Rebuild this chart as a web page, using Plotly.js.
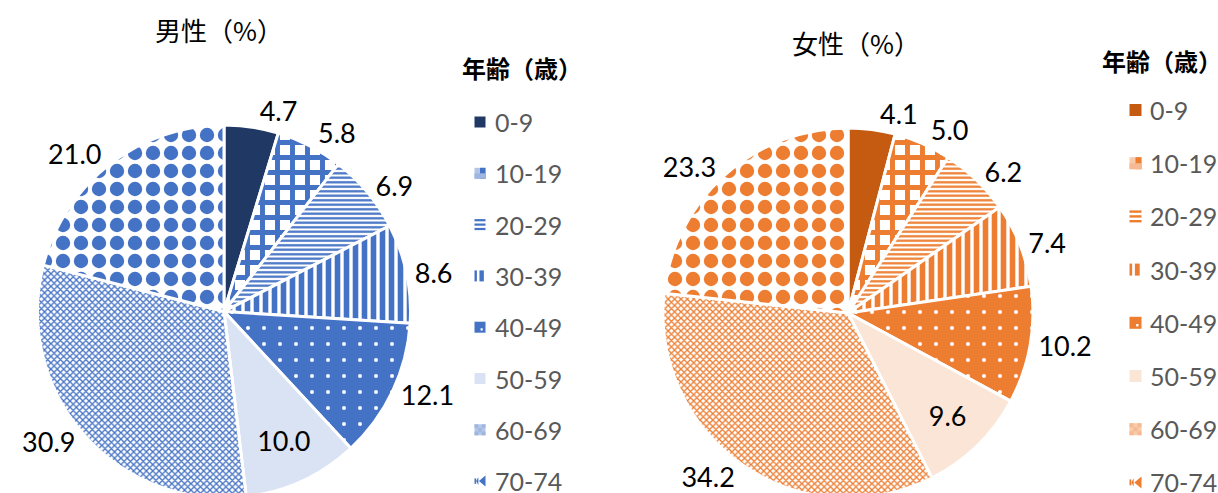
<!DOCTYPE html>
<html><head><meta charset="utf-8">
<script src="https://cdn.plot.ly/plotly-3.0.1.min.js"></script>
<style>html,body{margin:0;padding:0;background:#fff}#wrap{width:1218px;height:493px;overflow:hidden}</style>
</head><body><div id="wrap"><div id="chart"></div></div>
<script>
// ---- data ----
const ageGroups = ['0-9', '10-19', '20-29', '30-39', '40-49', '50-59', '60-69', '70-74'];
const maleValues = [4.7, 5.8, 6.9, 8.6, 12.1, 10.0, 30.9, 21.0];
const femaleValues = [4.1, 5.0, 6.2, 7.4, 10.2, 9.6, 34.2, 23.3];
const maleTitle = '男性（%）';
const femaleTitle = '女性（%）';
const legendTitle = '年齢（歳）';

// ---- styling ----
const W = 1218, H = 520;
const px = x => x / W;
const py = y => 1 - y / H;

const blue = {dark: '#203864', mid: '#4472C4', light: '#DAE3F3', mix: '#9FB6E0', mix2: '#B4C6E7'};
const orange = {dark: '#C55A11', mid: '#ED7D31', light: '#FBE5D6', mix: '#F5BA92', mix2: '#F8CBAD'};
const NUM_FONT = 'Lato, "Liberation Sans", sans-serif';
const CJK_FONT = '"Noto Sans CJK JP", "Noto Sans", sans-serif';
const TEXT_FONT = {family: NUM_FONT, size: 27, color: '#000000'};

function patternFor(c) {
  return {
    shape: ['/', '+', '-', '|', '.', '/', 'x', '.'],
    fgcolor: [c.dark, c.mid, c.mid, c.mid, '#ffffff', c.light, c.mid, c.mid],
    bgcolor: [c.dark, '#ffffff', '#ffffff', '#ffffff', c.mid, c.light, '#ffffff', '#ffffff'],
    size: [8, 15, 4.5, 9, 16, 8, 4.5, 18],
    solidity: [0.5, 0.55, 0.5, 0.62, 0.05, 0.5, 0.5, 0.5],
    fillmode: 'replace'
  };
}

function domainFor(cx, cy, r) {
  return {x: [px(cx - r), px(cx + r)], y: [py(cy + r), py(cy - r)]};
}

// main pie: all slices, labels except the first one (which is drawn by the overlay
// so that Plotly does not push it aside with a leader line)
function pieTrace(values, c, cx, cy, r) {
  return {
    type: 'pie',
    values: values,
    labels: ageGroups,
    sort: false,
    direction: 'clockwise',
    rotation: 0,
    domain: domainFor(cx, cy, r),
    marker: {
      colors: [c.dark, c.mid, c.mid, c.mid, c.mid, c.light, c.mid, c.mid],
      line: {color: '#ffffff', width: 3},
      pattern: patternFor(c)
    },
    texttemplate: '%{value:.1f}',
    textposition: ageGroups.map((g, i) => i === 0 ? 'none' : (i === 5 ? 'inside' : 'outside')),
    insidetextorientation: 'horizontal',
    textfont: TEXT_FONT,
    insidetextfont: TEXT_FONT,
    outsidetextfont: TEXT_FONT,
    hoverinfo: 'label+value',
    showlegend: false
  };
}

// transparent overlay pie carrying only the first slice's label
function labelOverlay(values, cx, cy, r) {
  return {
    type: 'pie',
    values: values,
    labels: ageGroups,
    sort: false,
    direction: 'clockwise',
    rotation: 0,
    domain: domainFor(cx, cy, r),
    marker: {colors: ageGroups.map(() => 'rgba(0,0,0,0)'), line: {width: 0}},
    texttemplate: '%{value:.1f}',
    textposition: ageGroups.map((g, i) => i === 0 ? 'outside' : 'none'),
    textfont: TEXT_FONT,
    outsidetextfont: TEXT_FONT,
    hoverinfo: 'skip',
    showlegend: false
  };
}

const data = [
  pieTrace(maleValues, blue, 224, 311.5, 186.5),
  pieTrace(femaleValues, orange, 848, 313, 185),
  labelOverlay(maleValues, 224, 311.5, 186.5),
  labelOverlay(femaleValues, 848, 313, 185)
];

const annotations = [];
const shapes = [];

function addTitle(text, x, y) {
  annotations.push({xref: 'paper', yref: 'paper', x: px(x), y: py(y), text: text, showarrow: false,
    xanchor: 'center', yanchor: 'middle', font: {family: CJK_FONT, size: 26, color: '#000000'}});
}

function rect(x0, y0, x1, y1, color) {
  shapes.push({type: 'rect', xref: 'paper', yref: 'paper', x0: px(x0), x1: px(x1), y0: py(y1), y1: py(y0),
    fillcolor: color, line: {width: 0}, layer: 'above'});
}
function poly(points, color) {
  const d = points.map((p, k) => (k ? 'L' : 'M') + px(p[0]).toFixed(5) + ',' + py(p[1]).toFixed(5)).join(' ') + ' Z';
  shapes.push({type: 'path', xref: 'paper', yref: 'paper', path: d, fillcolor: color, line: {width: 0}, layer: 'above'});
}

function swatch(i, x0, cy, s, c) {
  const y0 = cy - s / 2, y1 = cy + s / 2, x1 = x0 + s;
  if (i === 0) rect(x0, y0, x1, y1, c.dark);
  else if (i === 1) { rect(x0, y0, x1, y1, c.mix2); rect(x0 + s * 0.5, y0, x1, y1, c.mid); rect(x0, y0 + s * 0.5, x1, y1, c.mix); }
  else if (i === 2) { for (let k = 0; k < 3; k++) rect(x0, y0 + k * s * 0.4, x1, y0 + k * s * 0.4 + s * 0.2, c.mid); }
  else if (i === 3) { rect(x0, y0, x0 + s * 0.22, y1, c.mid); rect(x0 + s * 0.45, y0, x0 + s * 0.85, y1, c.mid); }
  else if (i === 4) { rect(x0, y0, x1, y1, c.mid); rect(x0 + s * 0.55, y0 + s * 0.6, x0 + s * 0.75, y0 + s * 0.8, '#ffffff'); }
  else if (i === 5) rect(x0, y0, x1, y1, c.light);
  else if (i === 6) {
    rect(x0, y0, x1, y1, c.mix2);
    for (let a = 0; a < 3; a++) for (let b = 0; b < 3; b++) if ((a + b) % 2 === 0)
      rect(x0 + a * s / 3, y0 + b * s / 3, x0 + (a + 1) * s / 3, y0 + (b + 1) * s / 3, c.mix);
  }
  else if (i === 7) {
    rect(x0, y0 + s * 0.25, x0 + s * 0.15, y1 - s * 0.25, c.mid);
    poly([[x0 + s * 0.15, cy], [x0 + s * 0.35, y0 + s * 0.15], [x0 + s * 0.35, y1 - s * 0.15]], c.mid);
    poly([[x0 + s * 0.4, cy], [x1, y0], [x1, y1]], c.mid);
  }
}

function addLegend(c, titleX, titleY, swX, txtX, y0, step, s, fontSize) {
  annotations.push({xref: 'paper', yref: 'paper', x: px(titleX), y: py(titleY), text: '<b>' + legendTitle + '</b>',
    showarrow: false, xanchor: 'left', yanchor: 'middle', font: {family: CJK_FONT, size: 24, color: '#000000'}});
  ageGroups.forEach((g, i) => {
    const cy = y0 + i * step;
    swatch(i, swX, cy, s, c);
    annotations.push({xref: 'paper', yref: 'paper', x: px(txtX), y: py(cy), text: g, showarrow: false,
      xanchor: 'left', yanchor: 'middle', font: {family: NUM_FONT, size: fontSize, color: '#595959'}});
  });
}

addTitle(maleTitle, 219, 29);
addTitle(femaleTitle, 856, 42);
addLegend(blue, 460, 68, 474.5, 493, 122, 51.3, 11, 25);
addLegend(orange, 1100, 60, 1129.5, 1148, 110, 53.2, 12, 25);

const layout = {
  width: W, height: H,
  margin: {l: 0, r: 0, t: 0, b: 0},
  paper_bgcolor: '#ffffff',
  showlegend: false,
  uniformtext: {mode: 'show', minsize: 27},
  annotations: annotations,
  shapes: shapes
};

Plotly.newPlot('chart', data, layout, {displayModeBar: false, staticPlot: true});
</script>
</body></html>
